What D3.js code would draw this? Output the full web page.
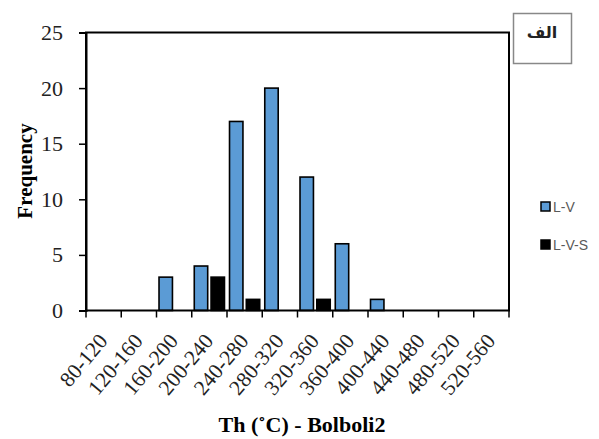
<!DOCTYPE html>
<html>
<head>
<meta charset="utf-8">
<script src="https://cdn.jsdelivr.net/npm/d3@7"></script>
<style>
  body { margin: 0; background: #fff; }
  svg { display: block; }
</style>
</head>
<body>
<svg id="chart" width="599" height="439"></svg>
<script>
// temperature classes (Th, deg C)
var categories = ["80-120", "120-160", "160-200", "200-240", "240-280", "280-320",
                  "320-360", "360-400", "400-440", "440-480", "480-520", "520-560"];
var seriesNames = ["L-V", "L-V-S"];
var lvValues  = [0, 0, 3, 4, 17, 20, 12, 6, 1, 0, 0, 0];
var lvsValues = [0, 0, 0, 3, 1, 0, 1, 0, 0, 0, 0, 0];
var yTicks = [0, 5, 10, 15, 20, 25];
var colors = {"L-V": "#5b9bd5", "L-V-S": "#000000"};

var svg = d3.select("#chart");
var margin = {left: 86, right: 90, top: 32.5, bottom: 128.5};
var width = 599 - margin.left - margin.right,
    height = 439 - margin.top - margin.bottom;

var g = svg.append("g").attr("transform", "translate(" + margin.left + "," + margin.top + ")");

var x = d3.scaleBand().domain(categories).range([0, width]);
var xi = d3.scaleBand().domain(seriesNames).range([0, x.bandwidth()])
    .paddingInner(0.2).paddingOuter(0.15);
var y = d3.scaleLinear().domain([0, 25]).range([height, 0]);

var rows = categories.map(function(c, i) {
  return {cat: c, vals: [{s: "L-V", v: lvValues[i]}, {s: "L-V-S", v: lvsValues[i]}]};
});

// bars
var grp = g.selectAll("g.cat").data(rows).enter().append("g")
    .attr("class", "cat")
    .attr("transform", function(d) { return "translate(" + x(d.cat) + ",0)"; });
grp.selectAll("rect").data(function(d) { return d.vals.filter(function(e) { return e.v > 0; }); })
  .enter().append("rect")
  .attr("x", function(d) { return xi(d.s); })
  .attr("y", function(d) { return y(d.v); })
  .attr("width", xi.bandwidth())
  .attr("height", function(d) { return height - y(d.v); })
  .attr("fill", function(d) { return colors[d.s]; })
  .attr("stroke", "#000")
  .attr("stroke-width", 1.6);

// frame
g.append("rect").attr("x", 0).attr("y", 0).attr("width", width).attr("height", height)
  .attr("fill", "none").attr("stroke", "#000").attr("stroke-width", 2);

// y axis
var yAxis = g.append("g").call(d3.axisLeft(y).tickValues(yTicks).tickSize(7).tickPadding(16));
yAxis.select(".domain").attr("stroke-width", 2);
yAxis.selectAll(".tick line").attr("stroke-width", 1.5);
yAxis.selectAll("text").style("font-family", "'Liberation Serif', 'Times New Roman', serif")
  .style("font-size", "22px").attr("fill", "#222");

// x axis (ticks on the band edges)
var edges = d3.range(categories.length + 1).map(function(i) { return i * x.step(); });
g.append("g").selectAll("line").data(edges).enter().append("line")
  .attr("x1", function(d) { return d; }).attr("x2", function(d) { return d; })
  .attr("y1", height).attr("y2", height + 7)
  .attr("stroke", "#000").attr("stroke-width", 1.5);
g.append("g").selectAll("text").data(categories).enter().append("text")
  .attr("transform", function(d) {
    return "translate(" + (x(d) + x.bandwidth() / 2 + 5) + "," + (height + 31) + ") rotate(-50)";
  })
  .attr("text-anchor", "end")
  .style("font-family", "'Liberation Serif', 'Times New Roman', serif")
  .style("font-size", "21.5px").attr("fill", "#222")
  .text(function(d) { return d; });

// axis titles
svg.append("text")
  .attr("x", 302).attr("y", 432)
  .attr("text-anchor", "middle")
  .style("font-family", "'Liberation Serif', 'Times New Roman', serif")
  .style("font-size", "22px").style("font-weight", "bold")
  .text("Th (˚C) - Bolboli2");
svg.append("text")
  .attr("transform", "translate(32,171) rotate(-90)")
  .attr("text-anchor", "middle")
  .style("font-family", "'Liberation Serif', 'Times New Roman', serif")
  .style("font-size", "21px").style("font-weight", "bold")
  .text("Frequency");

// legend
var legend = svg.append("g").selectAll("g").data(seriesNames).enter().append("g")
  .attr("transform", function(d, i) { return "translate(541," + (202 + i * 38) + ")"; });
legend.append("rect").attr("width", 9).attr("height", 9)
  .attr("fill", function(d) { return colors[d]; })
  .attr("stroke", "#000").attr("stroke-width", 1.5);
legend.append("text").attr("x", 12).attr("y", 10)
  .style("font-family", "'Liberation Sans', Arial, sans-serif")
  .style("font-size", "14px").attr("fill", "#595959")
  .text(function(d) { return d; });

// panel label box
svg.append("rect").attr("x", 513.5).attr("y", 13.5).attr("width", 58).attr("height", 50)
  .attr("fill", "#fff").attr("stroke", "#888").attr("stroke-width", 1.5);
svg.append("text").attr("x", 542).attr("y", 38)
  .attr("text-anchor", "middle")
  .style("font-family", "'DejaVu Sans', 'Noto Sans', sans-serif")
  .style("font-size", "16px").style("font-weight", "bold").attr("fill", "#222")
  .text("الف");
</script>
</body>
</html>
